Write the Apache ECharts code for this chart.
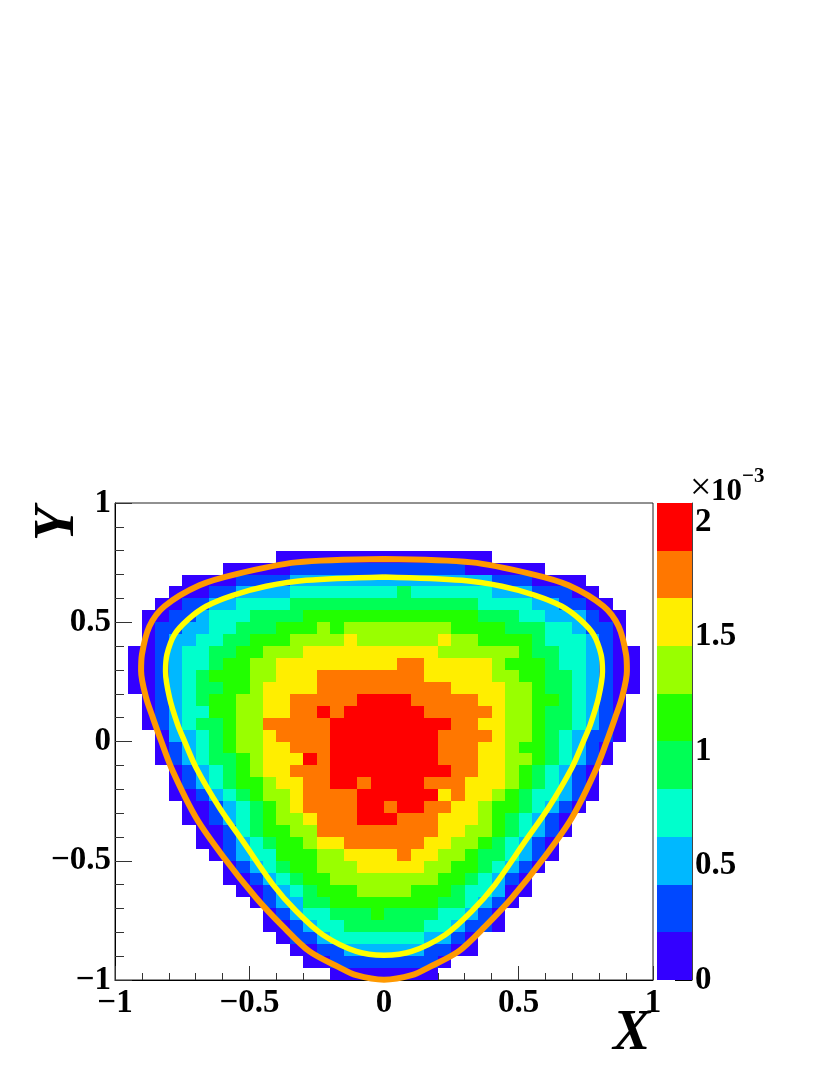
<!DOCTYPE html>
<html>
<head>
<meta charset="utf-8">
<style>html,body{margin:0;padding:0;background:#fff}#c{width:830px;height:1075px}</style>
<script src="https://cdn.jsdelivr.net/npm/echarts@6/dist/echarts.min.js"></script>
</head>
<body>
<div id="c"></div>
<script>
// colour bands of the z scale (units of 1e-3)
const bandEdges = [0,0.2083,0.4166,0.625,0.8333,1.0416,1.25,1.4583,1.6666,1.875,2.083];
const bandColors = ['#3300ff','#0048ff','#00b8ff','#00ffcc','#00ff55','#22ff00','#99ff00','#ffee00','#ff7700','#ff0000'];
const bandCenters = [0.104,0.312,0.521,0.729,0.937,1.146,1.354,1.562,1.771,1.979];
const zTicks = [0,0.5,1,1.5,2];
const zMax = 2.083;

// bin width (40 bins over [-1,1])
const binWidth = 0.05;

// band index of each bin, top row (Y near +1) to bottom row; '.' = empty bin
const binBands = [
 '','','','',
 '............ 0000000000000000',
 '........ 00000 1111111111111 000000',
 '..... 0000 1111 222222222222222 111 0000',
 '.... 000 11 2222 33333333 4 333333 222 111 00',
 '... 00 11 22 3333 44444444444444 3333 22 11 00',
 '.. 00 11 2 333 4444 5555555555555 444 33 222 1 00',
 '.. 0 11 22 33 444 555 6 5 66666666 5555 444 33 2 11 0',
 '.. 0 1 22 33 44 555 6666 7 666666 7 66 5555 4 333 2 1 0',
 '. 00 1 2 33 44 55 666 7777777777 666666 5 44 33 2 1 00',
 '. 00 1 2 33 4 55 66 777777777 88 77777 6 555 4 33 2 1 00',
 '. 00 1 2 3 4 555 66 777 88888888 77777 66 55 44 3 2 1 00',
 '. 00 1 2 3 44 55 6 7777 8888888888 7777 66 5 44 3 2 1 00',
 '.. 0 1 2 3 4 55 66 77 88888 9999 88888 77 66 55 4 3 2 1 0',
 '.. 0 1 2 33 55 66 77 88 9 8 999999 88888 7 66 5 44 3 2 1 0',
 '.. 0 1 2 3 44 5 66 88888 999999999 88 77 66 5 44 3 2 1 0',
 '... 0 22 3 4 5 66 7 8888 99999999 8888 7 66 5 4 3 2 11 0',
 '... 0 1 2 3 4 5 66 77 888 99999999 888 77 6 55 4 3 2 1 0',
 '... 0 1 2 3 44 5 6 777 9 8 99999999 888 77 66 5 4 3 2 1 0',
 '.... 0 1 2 3 4 5 6 77 888 999999999 88 77 6 5 4 3 2 1 0',
 '.... 0 1 2 3 4 55 6 77 88 99 8 9999 888 777 6 5 4 3 2 1 0',
 '.... 00 1 2 3 4 5 66 7 8888 999999 7 8 77 6 5 4 33 2 1 0',
 '..... 00 1 2 3 4 5 6 7 8888 99 8 99 88 77 6 55 4 3 2 1 0',
 '..... 00 1 2 3 4 5 66 7 888 999 888 777 6 5 4 3 2 1 0',
 '...... 00 1 3 4 55 66 888888888 77 66 5 4 3 2 1 0',
 '...... 00 1 2 3 4 55 6 77 888888 77 66 5 4 3 2 1 0',
 '....... 0 1 2 33 555 66 7777 8 77 66 5 44 3 2 1 0',
 '........ 0 1 2 3 4 55 666 77777 66 55 4 3 2 1 0',
 '........ 00 1 2 3 4 55 66666666 55 4 3 2 1 0',
 '......... 00 1 2 3 4 555 6666 555 4 33 2 00',
 '.......... 0 1 22 44 55555555 44 3 2 1 0',
 '........... 0 1 2 33 444 5 4444 33 2 1 0',
 '........... 00 1 2 33 444444 33 2 11 0',
 '............ 0 11 2 3333333 22 1 0',
 '............. 00 11 222222 11 00',
 '.............. 00 11111111 0',
 '................ 00000000'
];

// outer (orange) boundary curve
const orangeX = [0,-0.326,-0.549,-0.686,-0.816,-0.872,-0.900,-0.903,-0.884,-0.859,-0.828,-0.785,-0.698,-0.599,-0.475,-0.376,-0.277,-0.170,-0.103,0,0.103,0.170,0.277,0.376,0.475,0.599,0.698,0.785,0.828,0.859,0.884,0.903,0.900,0.872,0.816,0.686,0.549,0.326,0];
const orangeY = [0.765,0.751,0.702,0.655,0.567,0.483,0.364,0.296,0.182,0.099,0.001,-0.125,-0.321,-0.481,-0.656,-0.775,-0.880,-0.945,-0.980,-0.999,-0.980,-0.945,-0.880,-0.775,-0.656,-0.481,-0.321,-0.125,0.001,0.099,0.182,0.296,0.364,0.483,0.567,0.655,0.702,0.751,0.765];
// inner (yellow) boundary curve
const yellowX = [0,-0.289,-0.438,-0.562,-0.661,-0.729,-0.779,-0.807,-0.812,-0.797,-0.767,-0.744,-0.698,-0.611,-0.525,-0.413,-0.326,-0.228,-0.103,0,0.103,0.228,0.326,0.413,0.525,0.611,0.698,0.744,0.767,0.797,0.812,0.807,0.779,0.729,0.661,0.562,0.438,0.289,0];
const yellowY = [0.690,0.676,0.651,0.613,0.567,0.511,0.448,0.364,0.294,0.182,0.071,0.008,-0.111,-0.279,-0.418,-0.600,-0.712,-0.810,-0.880,-0.896,-0.880,-0.810,-0.712,-0.600,-0.418,-0.279,-0.111,0.008,0.071,0.182,0.294,0.364,0.448,0.511,0.567,0.613,0.651,0.676,0.690];

const cells = [];
binBands.forEach((row, r) => {
  row.replace(/ /g, '').split('').forEach((ch, c) => {
    if (ch !== '.') cells.push([-1 + binWidth * (c + 0.5), 1 - binWidth * (r + 0.5), bandCenters[+ch]]);
  });
});
const barBands = bandCenters.map((v, i) => [bandEdges[i], bandEdges[i + 1], v]);
const zip = (a, b) => a.map((v, i) => [v, b[i]]);
const font = '"Liberation Serif","Times New Roman",serif';
const fmt = v => String(v).replace('-', '\u2212');
const labelStyle = {fontFamily: font, fontWeight: 'bold', fontSize: 33, color: '#000'};
const thin = {color: '#333', width: 1};

function snappedRect(api, a, b) {
  const p = api.coord(a), q = api.coord(b);
  const x0 = Math.round(Math.min(p[0], q[0])), x1 = Math.round(Math.max(p[0], q[0]));
  const y0 = Math.round(Math.min(p[1], q[1])), y1 = Math.round(Math.max(p[1], q[1]));
  return {type: 'rect', shape: {x: x0, y: y0, width: x1 - x0, height: y1 - y0}, style: {fill: api.visual('color')}};
}
function renderCell(params, api) {
  const x = api.value(0), y = api.value(1), h = binWidth / 2;
  return snappedRect(api, [x - h, y - h], [x + h, y + h]);
}
function renderBand(params, api) {
  return snappedRect(api, [0, api.value(0)], [1, api.value(1)]);
}

const chart = echarts.init(document.getElementById('c'), null, {renderer: 'canvas'});
chart.setOption({
  animation: false,
  backgroundColor: '#fff',
  grid: [
    {left: 115, top: 503, width: 538, height: 477, show: true, borderColor: '#222', borderWidth: 1, backgroundColor: 'transparent'},
    {left: 657, top: 503, width: 35, height: 477}
  ],
  xAxis: [
    {type: 'value', gridIndex: 0, min: -1, max: 1, interval: 0.5, position: 'bottom',
     splitLine: {show: false},
     axisLine: {show: true, onZero: false, lineStyle: {color: '#000', width: 1}},
     axisTick: {show: true, inside: true, length: 14, lineStyle: thin},
     minorTick: {show: true, splitNumber: 5, length: 7, lineStyle: thin},
     axisLabel: Object.assign({margin: 7, formatter: fmt, hideOverlap: false, showMinLabel: true, showMaxLabel: true}, labelStyle)},
    {type: 'value', gridIndex: 1, min: 0, max: 1, show: false}
  ],
  yAxis: [
    {type: 'value', gridIndex: 0, min: -1, max: 1, interval: 0.5, position: 'left',
     splitLine: {show: false},
     axisLine: {show: true, onZero: false, lineStyle: {color: '#000', width: 1}},
     axisTick: {show: true, inside: true, length: 17, lineStyle: thin},
     minorTick: {show: true, splitNumber: 5, length: 9, lineStyle: thin},
     axisLabel: Object.assign({margin: 4, padding: [6, 0, 0, 0], formatter: fmt, hideOverlap: false, showMinLabel: true, showMaxLabel: true}, labelStyle)},
    {type: 'value', gridIndex: 1, min: 0, max: zMax, position: 'right',
     splitLine: {show: false},
     axisLine: {show: true, onZero: false, lineStyle: {color: '#444', width: 1}},
     axisTick: {show: true, inside: true, length: 17, customValues: zTicks, lineStyle: {color: '#000', width: 1}},
     axisLabel: Object.assign({margin: 3, padding: [6, 0, 0, 0], customValues: zTicks, formatter: String, hideOverlap: false}, labelStyle)}
  ],
  visualMap: {
    type: 'piecewise', show: false, seriesIndex: [0, 1], dimension: 2,
    pieces: bandColors.map((color, i) => ({min: bandEdges[i], max: bandEdges[i + 1], color}))
  },
  series: [
    {type: 'custom', xAxisIndex: 0, yAxisIndex: 0, coordinateSystem: 'cartesian2d', data: cells, encode: {x: 0, y: 1}, renderItem: renderCell, silent: true, z: 1},
    {type: 'custom', xAxisIndex: 1, yAxisIndex: 1, coordinateSystem: 'cartesian2d', data: barBands, encode: {y: [0, 1]}, renderItem: renderBand, silent: true, z: 1},
    {type: 'line', xAxisIndex: 0, yAxisIndex: 0, data: zip(orangeX, orangeY), showSymbol: false, smooth: 0.3, clip: false, lineStyle: {color: '#ff9900', width: 6}, z: 3},
    {type: 'line', xAxisIndex: 0, yAxisIndex: 0, data: zip(yellowX, yellowY), showSymbol: false, smooth: 0.3, clip: false, lineStyle: {color: '#ffff00', width: 5.5}, z: 4}
  ],
  graphic: [
    {type: 'text', left: 613, top: 1007, style: {text: 'X', fontFamily: font, fontWeight: 'bold', fontStyle: 'italic', fontSize: 56, fill: '#000'}},
    {type: 'text', x: 87, y: 541, rotation: Math.PI / 2, style: {text: 'Y', fontFamily: font, fontWeight: 'bold', fontStyle: 'italic', fontSize: 56, fill: '#000', textAlign: 'left', textVerticalAlign: 'bottom'}},
    {type: 'text', left: 690, top: 470, style: {text: '\u00d7', fontFamily: font, fontSize: 38, fill: '#000'}},
    {type: 'text', left: 711, top: 476, style: {text: '10', fontFamily: font, fontWeight: 'bold', fontSize: 31, fill: '#000'}},
    {type: 'text', left: 742, top: 466, style: {text: '\u22123', fontFamily: font, fontWeight: 'bold', fontSize: 21, fill: '#000'}}
  ]
});
</script>
</body>
</html>
